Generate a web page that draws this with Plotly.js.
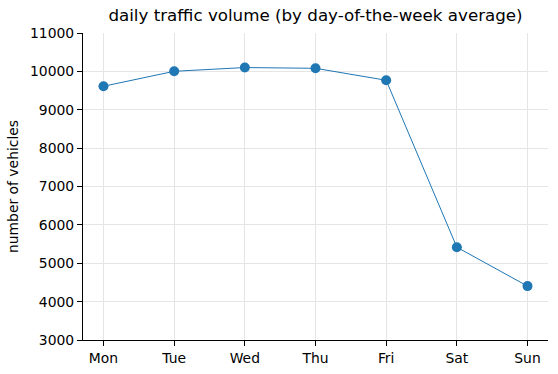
<!DOCTYPE html>
<html><head><meta charset="utf-8">
<script src="https://cdn.plot.ly/plotly-3.0.1.min.js"></script>
<style>html,body{margin:0;padding:0;background:#fff}#c{width:558px;height:374px}</style>
</head><body><div id="c"></div>
<script>
const days = ["Mon","Tue","Wed","Thu","Fri","Sat","Sun"];
const vehicles = [9612, 10002, 10100, 10080, 9768, 5418, 4404];
const yTicks = [3000,4000,5000,6000,7000,8000,9000,10000,11000];

const font = {family: "DejaVu Sans, sans-serif", size: 13.9, color: "#000"};
Plotly.newPlot("c", [{
  x: days.map((d,i)=>i), y: vehicles, type: "scatter", mode: "lines+markers",
  line: {color: "#1f77b4", width: 1},
  marker: {color: "#1f77b4", size: 10}
}], {
  width: 558, height: 374,
  margin: {l: 83, r: 10, t: 33, b: 34},
  paper_bgcolor: "#fff", plot_bgcolor: "#fff",
  font: font,
  showlegend: false,
  title: {text: "daily traffic volume (by day-of-the-week average)", font: {family: "DejaVu Sans, sans-serif", size: 16.7, color: "#000"}, xref: "paper", x: 0.5, xanchor: "center", yref: "container", y: 0.995, yanchor: "top", pad: {t: 7}},
  xaxis: {
    range: [-0.29, 6.29], tickmode: "array", tickvals: days.map((d,i)=>i), ticktext: days,
    showgrid: true, gridcolor: "#e5e5e5", gridwidth: 1,
    showline: true, linecolor: "#000", linewidth: 1,
    ticks: "outside", ticklen: 5, tickcolor: "#000", zeroline: false,
    tickfont: font
  },
  yaxis: {
    range: [3000, 11000], tickmode: "array", tickvals: yTicks, ticktext: yTicks.map(String),
    showgrid: true, gridcolor: "#e5e5e5", gridwidth: 1,
    showline: true, linecolor: "#000", linewidth: 1,
    ticks: "outside", ticklen: 5, tickcolor: "#000", zeroline: false,
    tickfont: font,
    title: {text: "number of vehicles", font: {family: "DejaVu Sans, sans-serif", size: 13.9, color: "#000"}, standoff: 8}
  }
}, {displayModeBar: false, staticPlot: true});
</script></body></html>
